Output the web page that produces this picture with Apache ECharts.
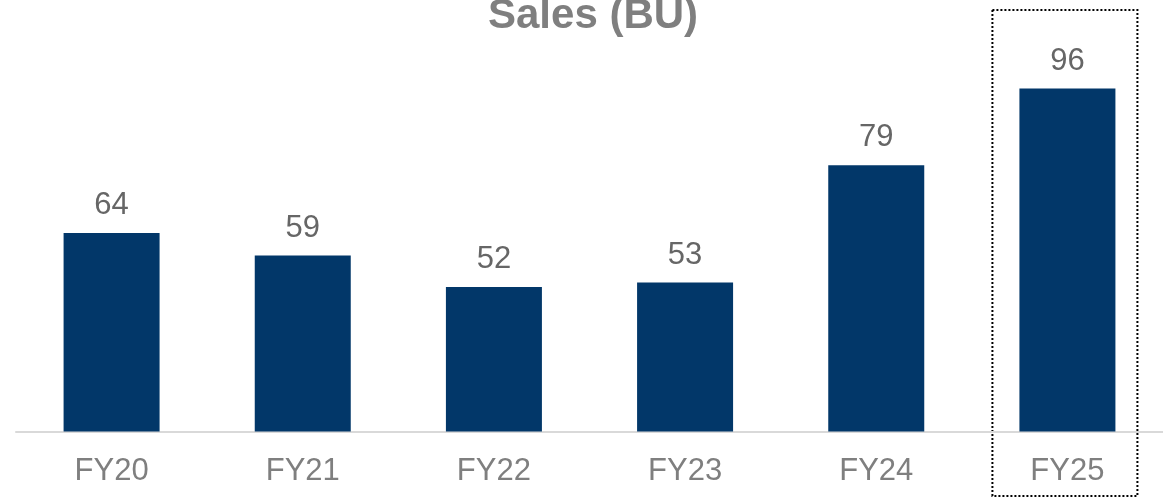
<!DOCTYPE html>
<html>
<head>
<meta charset="utf-8">
<script src="https://cdn.jsdelivr.net/npm/echarts@6/dist/echarts.min.js"></script>
<style>
  html, body { margin: 0; padding: 0; background: #fff; }
  #main { width: 1163px; height: 498px; }
</style>
</head>
<body>
<div id="main"></div>
<script>
var years = ['FY20', 'FY21', 'FY22', 'FY23', 'FY24', 'FY25'];
var sales = [64, 59, 52, 53, 79, 96];
var highlight = 'FY25';

var font = 'Arial, "Liberation Sans", sans-serif';
var chart = echarts.init(document.getElementById('main'));

chart.setOption({
  animation: false,
  title: {
    text: 'Sales (BU)',
    left: 483,
    top: -10,
    textStyle: { fontSize: 42, fontWeight: 'bold', color: '#7f7f7f', fontFamily: font }
  },
  grid: { left: 16, right: 0, top: 70.5, bottom: 66.5 },
  xAxis: {
    type: 'category',
    data: years,
    axisLine: { lineStyle: { color: '#d9d9d9', width: 2 } },
    axisTick: { show: false },
    axisLabel: { margin: 24, fontSize: 31, color: '#7f7f7f', fontFamily: font }
  },
  yAxis: {
    type: 'value',
    min: 20,
    max: 100,
    show: false,
    splitLine: { show: false }
  },
  series: [{
    type: 'bar',
    data: sales,
    barWidth: 96,
    itemStyle: { color: '#023769' },
    label: {
      show: true,
      position: 'top',
      distance: 12,
      fontSize: 31,
      color: '#666666',
      fontFamily: font
    }
  }]
});

// dotted box round the latest year
var cx = chart.convertToPixel({ xAxisIndex: 0 }, highlight);
chart.setOption({
  graphic: [{
    type: 'rect',
    shape: { x: cx - 75, y: 10, width: 145, height: 486 },
    style: { fill: 'none', stroke: '#000', lineWidth: 2, lineDash: [2, 2] },
    silent: true
  }]
});
</script>
</body>
</html>
